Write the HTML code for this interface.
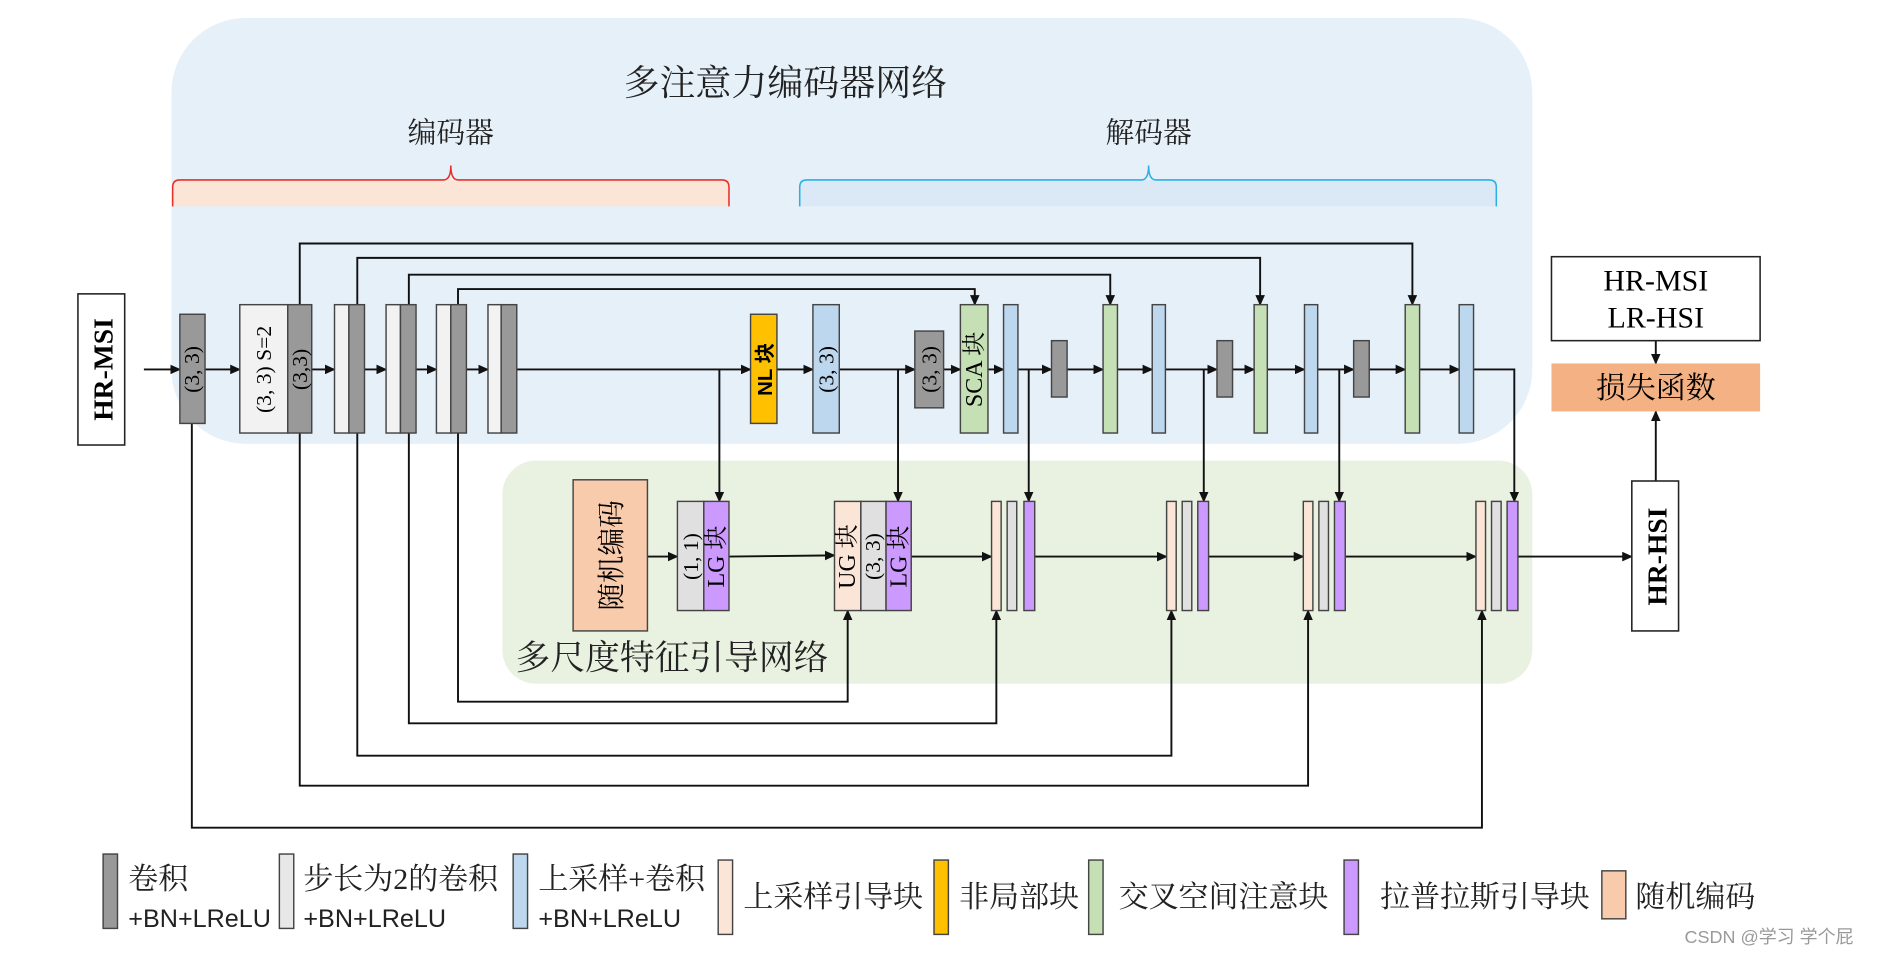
<!DOCTYPE html>
<html><head><meta charset="utf-8"><style>
html,body{margin:0;padding:0;background:#fff;}
svg{display:block;}
text{font-family:"Liberation Serif","Noto Serif CJK SC",serif;}
.s{font-family:"Liberation Sans","Noto Sans CJK SC",sans-serif;}
</style></head><body>
<svg width="1880" height="956" viewBox="0 0 1568 797" preserveAspectRatio="none" xmlns="http://www.w3.org/2000/svg">
<defs>
<marker id="a" markerUnits="userSpaceOnUse" markerWidth="9" markerHeight="8" refX="8" refY="4" orient="auto"><path d="M0,0 L9,4 L0,8 Z" fill="#111"/></marker>
</defs>
<rect x="143" y="15" width="1135" height="355" rx="62" fill="#e6f0f9"/>
<rect x="419" y="384" width="859" height="186" rx="28" fill="#e9f2e1"/>
<rect x="144" y="150" width="464" height="22" fill="#fbe5d6"/>
<path d="M144,172 V156 Q144,150 150,150 H370 Q376,150 376,138 Q376,150 382,150 H602 Q608,150 608,156 V172" fill="none" stroke="#e8302a" stroke-width="1.3"/>
<rect x="667" y="150" width="581" height="22" fill="#dbe8f5"/>
<path d="M667,172 V156 Q667,150 673,150 H952 Q958,150 958,138 Q958,150 964,150 H1242 Q1248,150 1248,156 V172" fill="none" stroke="#2bb0e6" stroke-width="1.3"/>
<text x="655" y="79" font-size="30" text-anchor="middle" fill="#222">多注意力编码器网络</text>
<text x="376" y="119" font-size="24" text-anchor="middle" fill="#222">编码器</text>
<text x="958" y="119" font-size="24" text-anchor="middle" fill="#222">解码器</text>

<g stroke="#111" stroke-width="1.6" fill="none">
<polyline points="250,254 250,203 1178,203 1178,254" marker-end="url(#a)"/>
<polyline points="298,254 298,215 1051,215 1051,254" marker-end="url(#a)"/>
<polyline points="341,254 341,229 926,229 926,254" marker-end="url(#a)"/>
<polyline points="382,254 382,241 813,241 813,254" marker-end="url(#a)"/>
<polyline points="382,361 382,585 707,585 707,509" marker-end="url(#a)"/>
<polyline points="341,361 341,603 831,603 831,509" marker-end="url(#a)"/>
<polyline points="298,361 298,630 977,630 977,509" marker-end="url(#a)"/>
<polyline points="250,361 250,655 1091,655 1091,509" marker-end="url(#a)"/>
<polyline points="160,353 160,690 1236,690 1236,509" marker-end="url(#a)"/>
<line x1="120" y1="308" x2="150" y2="308" marker-end="url(#a)"/>
<line x1="171" y1="308" x2="200" y2="308" marker-end="url(#a)"/>
<line x1="260" y1="308" x2="279" y2="308" marker-end="url(#a)"/>
<line x1="304" y1="308" x2="322" y2="308" marker-end="url(#a)"/>
<line x1="347" y1="308" x2="364" y2="308" marker-end="url(#a)"/>
<line x1="389" y1="308" x2="407" y2="308" marker-end="url(#a)"/>
<line x1="431" y1="308" x2="626" y2="308" marker-end="url(#a)"/>
<line x1="648" y1="308" x2="678" y2="308" marker-end="url(#a)"/>
<line x1="700" y1="308" x2="763" y2="308" marker-end="url(#a)"/>
<line x1="787" y1="308" x2="801" y2="308" marker-end="url(#a)"/>
<line x1="824" y1="308" x2="837" y2="308" marker-end="url(#a)"/>
<line x1="849" y1="308" x2="877" y2="308" marker-end="url(#a)"/>
<line x1="890" y1="308" x2="920" y2="308" marker-end="url(#a)"/>
<line x1="932" y1="308" x2="961" y2="308" marker-end="url(#a)"/>
<line x1="972" y1="308" x2="1015" y2="308" marker-end="url(#a)"/>
<line x1="1028" y1="308" x2="1046" y2="308" marker-end="url(#a)"/>
<line x1="1057" y1="308" x2="1088" y2="308" marker-end="url(#a)"/>
<line x1="1099" y1="308" x2="1129" y2="308" marker-end="url(#a)"/>
<line x1="1142" y1="308" x2="1172" y2="308" marker-end="url(#a)"/>
<line x1="1184" y1="308" x2="1217" y2="308" marker-end="url(#a)"/>
<polyline points="1229,308 1263,308 1263,418" marker-end="url(#a)"/>
<line x1="600" y1="308" x2="600" y2="418" marker-end="url(#a)"/>
<line x1="749" y1="308" x2="749" y2="418" marker-end="url(#a)"/>
<line x1="858" y1="308" x2="858" y2="418" marker-end="url(#a)"/>
<line x1="1004" y1="308" x2="1004" y2="418" marker-end="url(#a)"/>
<line x1="1117" y1="308" x2="1117" y2="418" marker-end="url(#a)"/>
<line x1="540" y1="464" x2="565" y2="464" marker-end="url(#a)"/>
<line x1="608" y1="464" x2="696" y2="463" marker-end="url(#a)"/>
<line x1="760" y1="464" x2="827" y2="464" marker-end="url(#a)"/>
<line x1="863" y1="464" x2="973" y2="464" marker-end="url(#a)"/>
<line x1="1008" y1="464" x2="1087" y2="464" marker-end="url(#a)"/>
<line x1="1122" y1="464" x2="1231" y2="464" marker-end="url(#a)"/>
<line x1="1266" y1="464" x2="1361" y2="464" marker-end="url(#a)"/>
<line x1="1381" y1="401" x2="1381" y2="343" marker-end="url(#a)"/>
<line x1="1381" y1="284" x2="1381" y2="303" marker-end="url(#a)"/>
</g>

<g stroke="#444" stroke-width="1.2">
<rect x="150" y="262" width="21" height="91" fill="#999"/>
<rect x="200" y="254" width="40" height="107" fill="#f2f2f2"/>
<rect x="240" y="254" width="20" height="107" fill="#999"/>
<rect x="279" y="254" width="12" height="107" fill="#f2f2f2"/><rect x="291" y="254" width="13" height="107" fill="#999"/>
<rect x="322" y="254" width="12" height="107" fill="#f2f2f2"/><rect x="334" y="254" width="13" height="107" fill="#999"/>
<rect x="364" y="254" width="12" height="107" fill="#f2f2f2"/><rect x="376" y="254" width="13" height="107" fill="#999"/>
<rect x="407" y="254" width="11" height="107" fill="#f2f2f2"/><rect x="418" y="254" width="13" height="107" fill="#999"/>
<rect x="626" y="262" width="22" height="91" fill="#ffc000"/>
<rect x="678" y="254" width="22" height="107" fill="#bdd7ee"/>
<rect x="763" y="276" width="24" height="64" fill="#999"/>
<rect x="801" y="254" width="23" height="107" fill="#c5e0b4"/>
<rect x="837" y="254" width="12" height="107" fill="#bdd7ee"/>
<rect x="877" y="284" width="13" height="47" fill="#999"/>
<rect x="920" y="254" width="12" height="107" fill="#c5e0b4"/>
<rect x="961" y="254" width="11" height="107" fill="#bdd7ee"/>
<rect x="1015" y="284" width="13" height="47" fill="#999"/>
<rect x="1046" y="254" width="11" height="107" fill="#c5e0b4"/>
<rect x="1088" y="254" width="11" height="107" fill="#bdd7ee"/>
<rect x="1129" y="284" width="13" height="47" fill="#999"/>
<rect x="1172" y="254" width="12" height="107" fill="#c5e0b4"/>
<rect x="1217" y="254" width="12" height="107" fill="#bdd7ee"/>
<rect x="478" y="400" width="62" height="126" fill="#f8cbad"/>
<rect x="565" y="418" width="22" height="91" fill="#e0e0e0"/><rect x="587" y="418" width="21" height="91" fill="#cc99ff"/>
<rect x="696" y="418" width="22" height="91" fill="#fbe5d6"/><rect x="718" y="418" width="21" height="91" fill="#e0e0e0"/><rect x="739" y="418" width="21" height="91" fill="#cc99ff"/>
<rect x="827" y="418" width="8" height="91" fill="#fbe5d6"/><rect x="840" y="418" width="8" height="91" fill="#e0e0e0"/><rect x="854" y="418" width="9" height="91" fill="#cc99ff"/>
<rect x="973" y="418" width="8" height="91" fill="#fbe5d6"/><rect x="986" y="418" width="8" height="91" fill="#e0e0e0"/><rect x="999" y="418" width="9" height="91" fill="#cc99ff"/>
<rect x="1087" y="418" width="8" height="91" fill="#fbe5d6"/><rect x="1100" y="418" width="8" height="91" fill="#e0e0e0"/><rect x="1113" y="418" width="9" height="91" fill="#cc99ff"/>
<rect x="1231" y="418" width="8" height="91" fill="#fbe5d6"/><rect x="1244" y="418" width="8" height="91" fill="#e0e0e0"/><rect x="1257" y="418" width="9" height="91" fill="#cc99ff"/>
</g>
<rect x="65" y="245" width="39" height="126" fill="#fff" stroke="#222" stroke-width="1.3"/>
<text transform="translate(94,308) rotate(-90)" font-size="23" font-weight="bold" text-anchor="middle">HR-MSI</text>
<rect x="1361" y="401" width="39" height="125" fill="#fff" stroke="#222" stroke-width="1.3"/>
<text transform="translate(1390,464) rotate(-90)" font-size="23" font-weight="bold" text-anchor="middle">HR-HSI</text>
<rect x="1294" y="214" width="174" height="70" fill="#fff" stroke="#222" stroke-width="1.3"/>
<text x="1381" y="242" font-size="25" text-anchor="middle">HR-MSI</text>
<text x="1381" y="273" font-size="25" text-anchor="middle">LR-HSI</text>
<rect x="1294" y="303" width="174" height="40" fill="#f4b183"/>
<text x="1381" y="332" font-size="25" text-anchor="middle">损失函数</text>
<g font-size="18" text-anchor="middle">
<text transform="translate(166,308) rotate(-90)">(3, 3)</text>
<text transform="translate(226,308) rotate(-90)">(3, 3) S=2</text>
<text transform="translate(256,308) rotate(-90)">(3,3)</text>
<text transform="translate(644,308) rotate(-90)" class="s" font-weight="bold" font-size="17">NL 块</text>
<text transform="translate(695,308) rotate(-90)">(3, 3)</text>
<text transform="translate(781,308) rotate(-90)">(3, 3)</text>
<text transform="translate(819,308) rotate(-90)" font-size="20">SCA 块</text>
<text transform="translate(518,463) rotate(-90)" font-size="23">随机编码</text>
<text transform="translate(582,464) rotate(-90)">(1, 1)</text>
<text transform="translate(604,464) rotate(-90)" font-size="20">LG 块</text>
<text transform="translate(713,464) rotate(-90)" font-size="20">UG 块</text>
<text transform="translate(734,464) rotate(-90)">(3, 3)</text>
<text transform="translate(756,464) rotate(-90)" font-size="20">LG 块</text>
</g>
<text x="430" y="558" font-size="29" fill="#222">多尺度特征引导网络</text>
<g stroke="#444" stroke-width="1.2">
<rect x="86" y="712" width="12" height="62" fill="#999"/>
<rect x="233" y="712" width="12" height="62" fill="#e8e8e8"/>
<rect x="428" y="712" width="12" height="62" fill="#bdd7ee"/>
<rect x="599" y="717" width="12" height="62" fill="#fbe5d6"/>
<rect x="779" y="717" width="12" height="62" fill="#ffc000"/>
<rect x="908" y="717" width="12" height="62" fill="#c5e0b4"/>
<rect x="1121" y="717" width="12" height="62" fill="#cc99ff"/>
<rect x="1336" y="726" width="20" height="40" fill="#f8cbad"/>
</g>
<g font-size="25" fill="#222">
<text x="107" y="741">卷积</text>
<text x="253" y="741">步长为2的卷积</text>
<text x="449" y="741">上采样+卷积</text>
<text x="620" y="756">上采样引导块</text>
<text x="800" y="756">非局部块</text>
<text x="933" y="756">交叉空间注意块</text>
<text x="1151" y="756">拉普拉斯引导块</text>
<text x="1364" y="756">随机编码</text>
</g>
<g font-size="21" fill="#222">
<text class="s" x="107" y="773">+BN+LReLU</text>
<text class="s" x="253" y="773">+BN+LReLU</text>
<text class="s" x="449" y="773">+BN+LReLU</text>
</g>
<text class="s" x="1405" y="786" font-size="15" fill="#999">CSDN @学习 学个屁</text>
</svg>
</body></html>
